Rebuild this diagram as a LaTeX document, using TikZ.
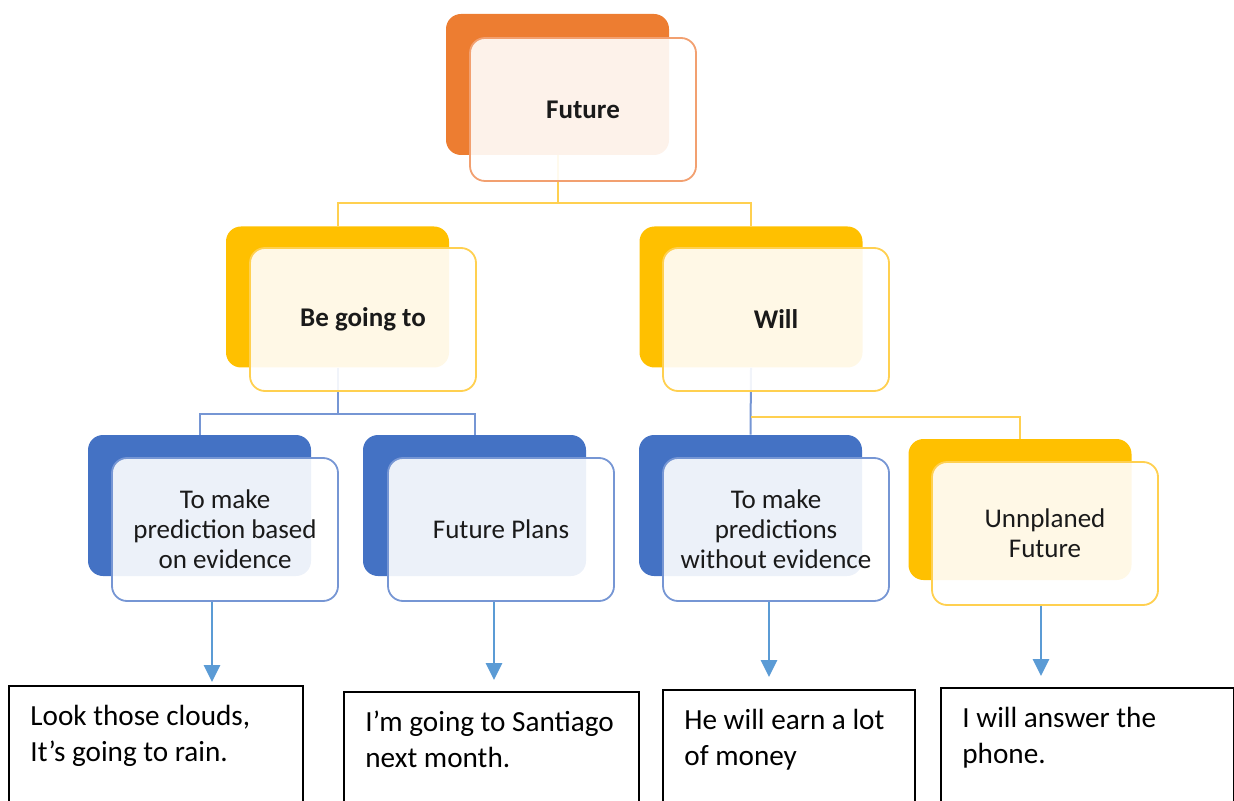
\documentclass[tikz,border=0pt]{standalone}
\usepackage{fontspec}
\setmainfont{Carlito}
\usetikzlibrary{arrows.meta}
\definecolor{treecolor0001}{RGB}{237,125,49}
\definecolor{treecolor0002}{RGB}{255,192,0}
\definecolor{treecolor0003}{RGB}{68,114,196}
\definecolor{treecolor0004}{RGB}{91,155,213}
\definecolor{treecolor0005}{RGB}{242,160,112}
\definecolor{treecolor0006}{RGB}{255,208,80}
\definecolor{treecolor0007}{RGB}{118,150,212}
\definecolor{treecolor0008}{RGB}{26,26,26}

\begin{document}
\begin{tikzpicture}[x=0.5pt,y=-0.5pt
,bstyle0/.style={rounded corners=7.5pt,minimum width=111.5pt,minimum height=70.5pt,inner sep=0}
,bstyle1/.style={rounded corners=7.5pt,minimum width=113pt,minimum height=71.5pt,inner sep=0,draw,line width=0.9pt,fill=white,fill opacity=0.9,text opacity=1,align=center,text=treecolor0008,font=\fontsize{13.5}{15}\selectfont}
,bstyle2/.style={bstyle1,font=\fontsize{13.5}{15}\selectfont\bfseries}
,cstyle0/.style={color=treecolor0006,line width=1pt}
,cstyle1/.style={color=treecolor0007,line width=1pt}
,astyle0/.style={color=treecolor0004,line width=1.4pt,-{Triangle[width=8pt,length=8.5pt]}}
,estyle0/.style={draw=black,line width=0.8pt,anchor=north west,inner sep=0,minimum height=80pt}
,estyle1/.style={anchor=north west,inner sep=0,align=left,text=black,font=\fontsize{14.6}{18}\selectfont}
]
\clip (0,0) rectangle (1234,801);
\node[bstyle0,fill=treecolor0001] (futb) at (557.5,84.5) {};
\node[bstyle0,fill=treecolor0002] (bgtb) at (337.5,297) {};
\node[bstyle0,fill=treecolor0002] (willb) at (751,297) {};
\node[bstyle0,fill=treecolor0003] (b1) at (199.5,505.5) {};
\node[bstyle0,fill=treecolor0003] (b2) at (474.5,505.5) {};
\node[bstyle0,fill=treecolor0003] (b3) at (750.5,505.5) {};
\node[bstyle0,fill=treecolor0002] (b4) at (1020,509.5) {};
\draw[cstyle0] (futb.south) -- ++(0,48) coordinate (futj) -| (bgtb.north);
\draw[cstyle0] (futj) -| (willb.north);
\draw[cstyle1] (bgtb.south) -- ++(0,46) coordinate (bgtj) -| (b1.north);
\draw[cstyle1] (bgtj) -| (b2.north);
\draw[cstyle1] (willb.south) -- (b3.north);
\draw[cstyle0] ([yshift=-24.5pt]willb.south) -| (b4.north);
\node[bstyle2,draw=treecolor0005] (fut) at (583,109.5) {Future};
\node[bstyle2,draw=treecolor0006] (bgt) at (363,319.5) {Be going to};
\node[bstyle2,draw=treecolor0006] (will) at (776,319.5) {Will};
\node[bstyle1,draw=treecolor0007] (f1) at (225,529.5) {To make\\prediction based\\on evidence};
\node[bstyle1,draw=treecolor0007] (f2) at (501,529.5) {Future Plans};
\node[bstyle1,draw=treecolor0007] (f3) at (776,529.5) {To make\\predictions\\without evidence};
\node[bstyle1,draw=treecolor0006] (f4) at (1045,533.5) {Unnplaned\\Future};
\node[estyle0,minimum width=147pt] (ex1) at (8,685) {};
\node[estyle0,minimum width=147.5pt] (ex2) at (343,691) {};
\node[estyle0,minimum width=126pt] (ex3) at (662,689) {};
\node[estyle0,minimum width=146.5pt] (ex4) at (940,687) {};
\node[estyle1] (ex1t) at ([xshift=11pt,yshift=-7.6pt]ex1.north west) {\strut Look those clouds,\\It’s going to rain.};
\node[estyle1] (ex2t) at ([xshift=11pt,yshift=-7.6pt]ex2.north west) {\strut I’m going to Santiago\\next month.};
\node[estyle1] (ex3t) at ([xshift=11pt,yshift=-7.6pt]ex3.north west) {\strut He will earn a lot\\of money};
\node[estyle1] (ex4t) at ([xshift=11pt,yshift=-7.6pt]ex4.north west) {\strut I will answer the\\phone.};
\coordinate (ar1) at (212,682);
\coordinate (ar2) at (494,680);
\coordinate (ar3) at (769,677);
\coordinate (ar4) at (1041,676);
\draw[astyle0] ([xshift=-6.5pt]f1.south) -- (ar1);
\draw[astyle0] ([xshift=-3.5pt]f2.south) -- (ar2);
\draw[astyle0] ([xshift=-3.5pt]f3.south) -- (ar3);
\draw[astyle0] ([xshift=-2pt]f4.south) -- (ar4);
\end{tikzpicture}
\end{document}
